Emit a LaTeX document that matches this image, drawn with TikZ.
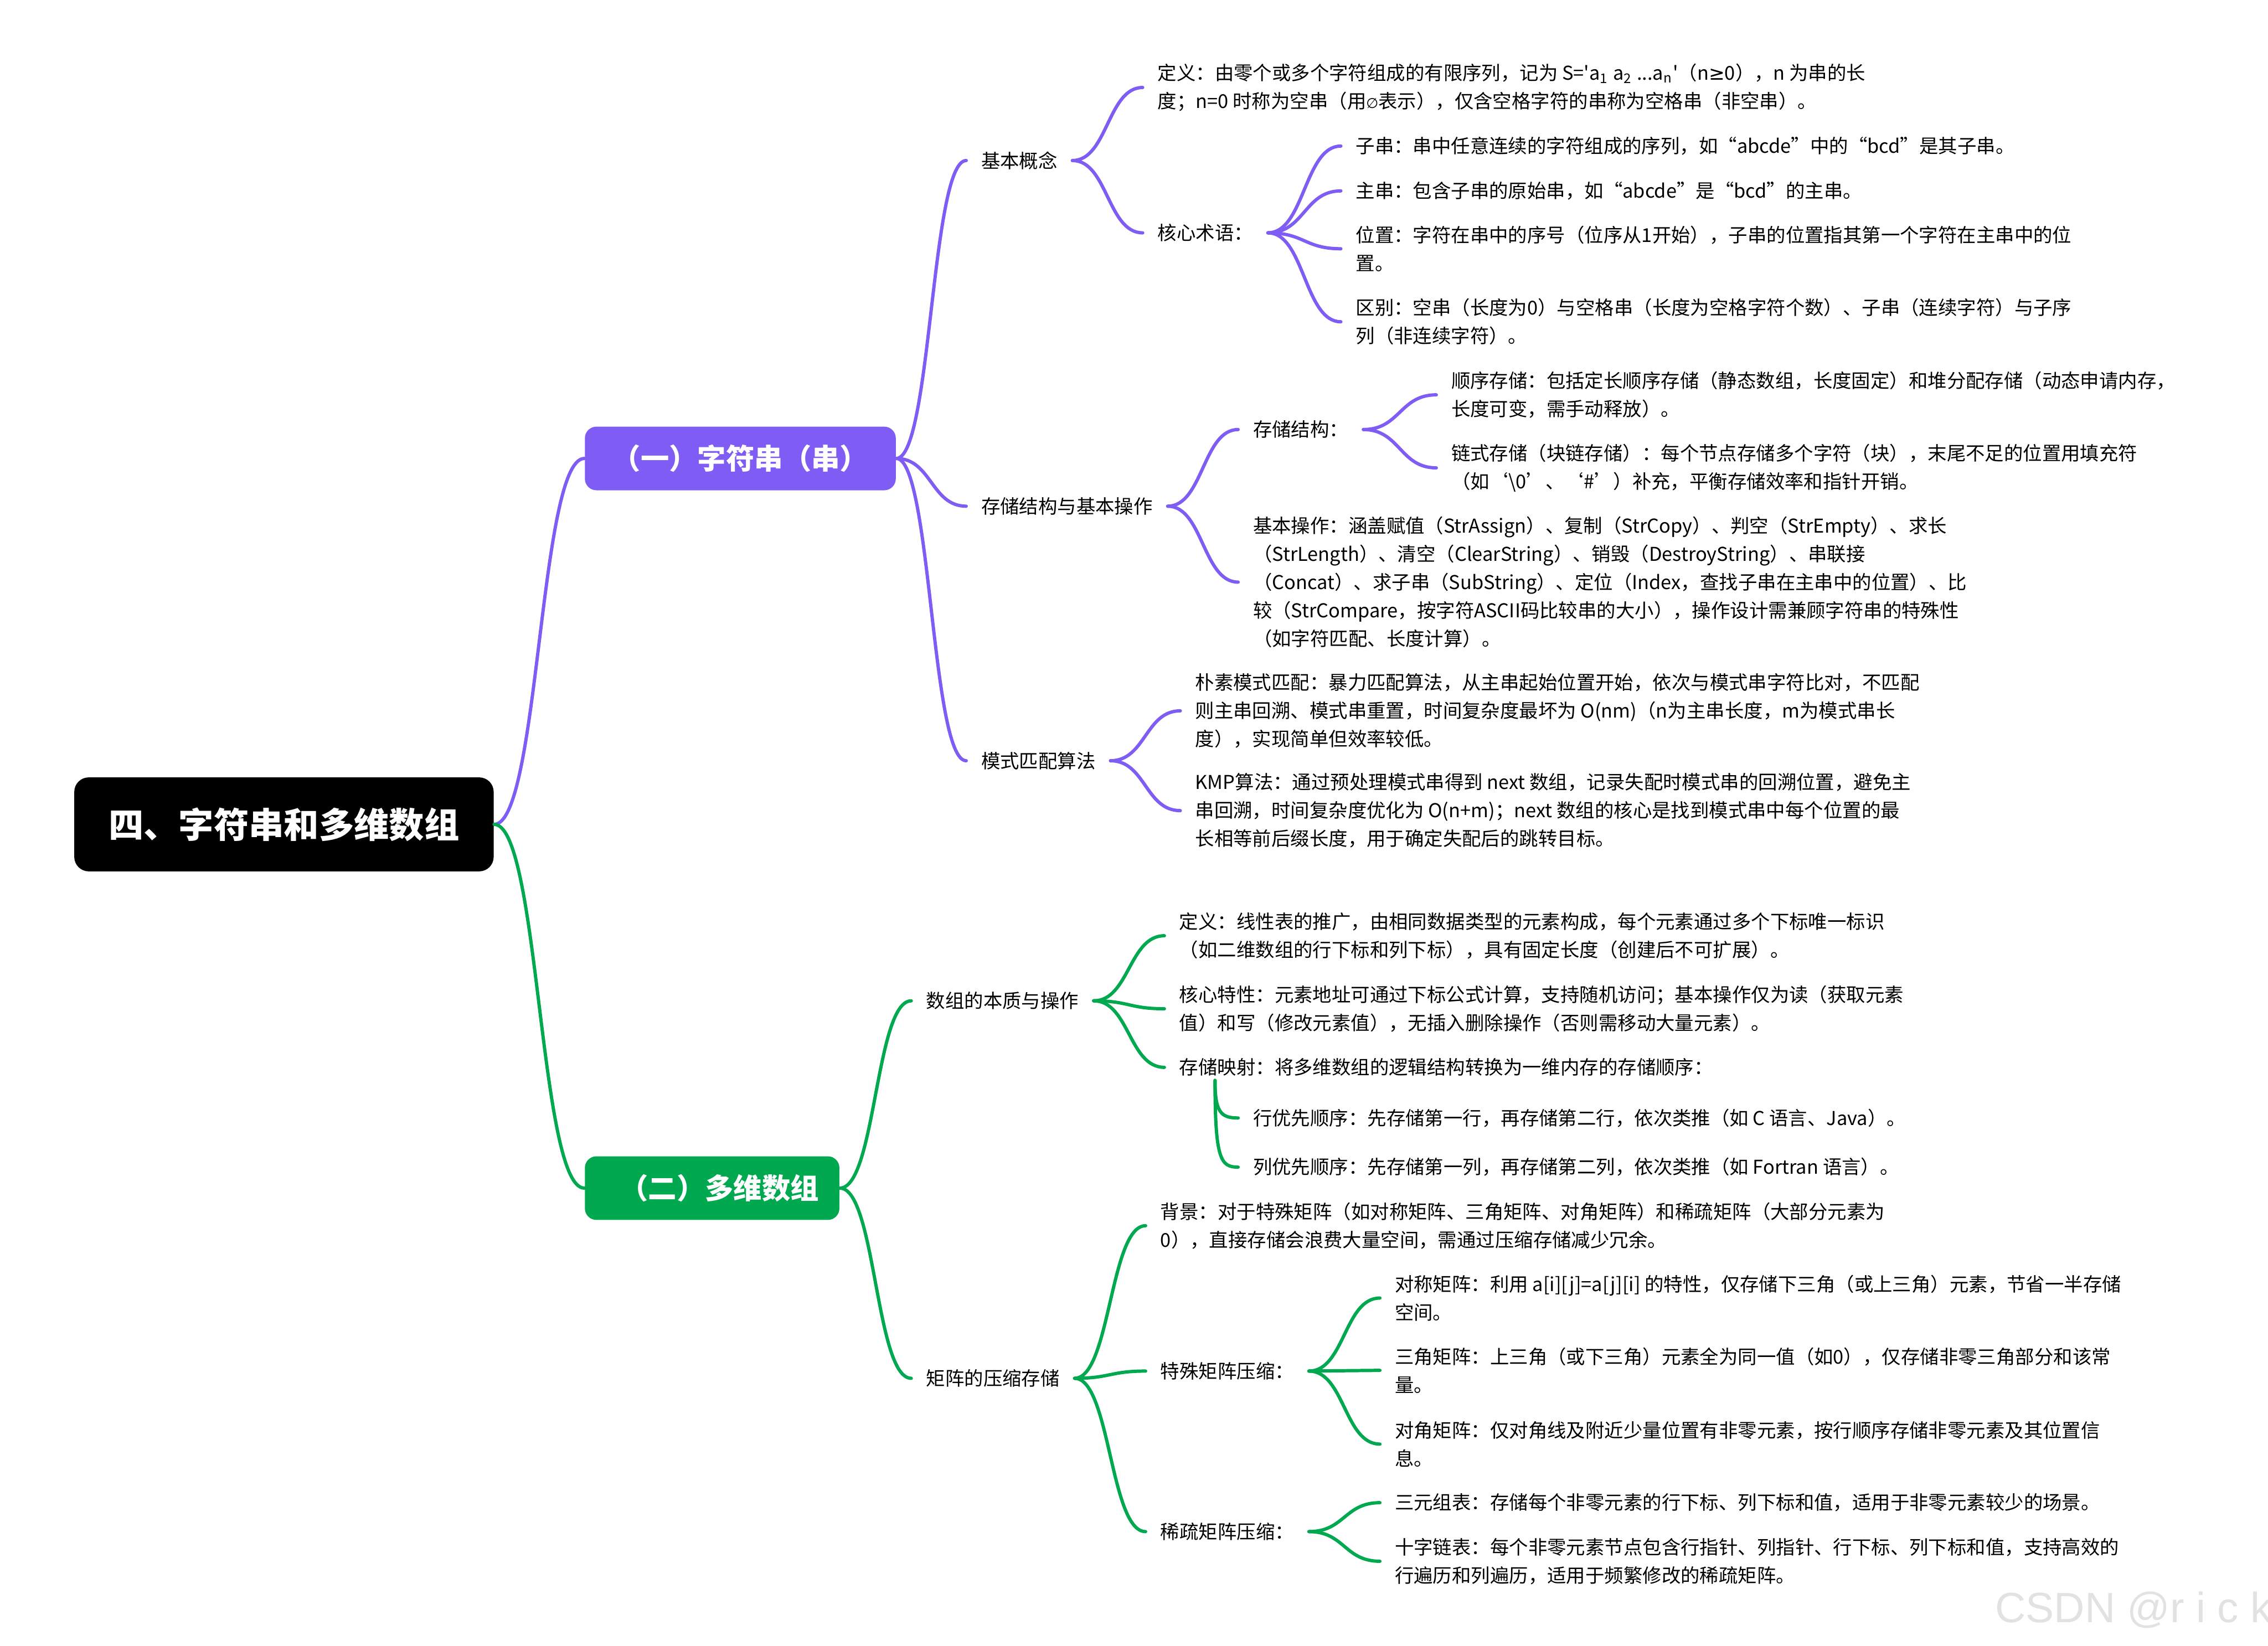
\documentclass[tikz,border=0pt]{standalone}
\usepackage{fontspec}
\setmainfont{Noto Sans CJK SC}
\newfontfamily\symfont{DejaVu Sans}
\newfontfamily\markfont{Liberation Sans}
\usetikzlibrary{calc}
\definecolor{strpurple}{HTML}{7F5CF3}
\definecolor{arrgreen}{HTML}{00A94F}
\definecolor{markgray}{HTML}{E2E2E2}
\newcommand{\leaffont}{\fontsize{7.5pt}{11.1pt}\selectfont}
\newcommand{\nullsym}{{\symfont\fontsize{5.5pt}{6pt}\selectfont ∅}}
\newcommand{\mmlink}[3]{\draw[#1] let \p1=(#2), \p2=(#3), \n1={0.5*(\x2-\x1)} in
  (\p1) .. controls +(\n1,0pt) and +(-\n1,0pt) .. (\p2);}

\begin{document}
\begin{tikzpicture}[
  x=0.02cm, y=-0.02cm,
  rootbox/.style={fill=black, rounded corners=0.2cm, text=white, minimum width=5.8cm, minimum height=1.3cm,
    inner sep=0pt, anchor=west, font=\fontsize{13.8pt}{16pt}\selectfont\bfseries},
  catbox/.style={rounded corners=0.16cm, text=white, minimum height=0.88cm, inner sep=0pt, anchor=west,
    font=\fontsize{11.2pt}{13pt}\selectfont\bfseries},
  topic/.style={anchor=west, align=left, inner xsep=0.2cm, inner ysep=1pt, font=\leaffont},
  plink/.style={strpurple, line width=1.3pt, line cap=round},
  glink/.style={arrgreen, line width=1.3pt, line cap=round}]

  \fill[white] (0,0) rectangle (1568,1138);
  \useasboundingbox (0,0) rectangle (1568,1138);

  % root and the two parts
  \node[rootbox] (root) at (51,570) {四、字符串和多维数组};
  \node[catbox, fill=strpurple, minimum width=4.3cm] (str) at (404,317) {（一）字符串（串）};
  \node[catbox, fill=arrgreen, minimum width=3.52cm] (arr) at (404,821.5) {\hspace{0.2cm}（二）多维数组};

  % part one: strings
  \node[topic] (jbgn) at (668,111) {基本概念};
  \node[topic] (strdef) at (790,60.5) {定义：由零个或多个字符组成的有限序列，记为 S=\textquotesingle a\textsubscript{1} a\textsubscript{2} ...a\textsubscript{n}\textquotesingle（n{\symfont ≥}0），n 为串的长\\度；n=0 时称为空串（用\nullsym 表示），仅含空格字符的串称为空格串（非空串）。};
  \node[topic] (hxsy) at (790,161) {核心术语：};
  \node[topic] (zc) at (927,101) {子串：串中任意连续的字符组成的序列，如“abcde”中的“bcd”是其子串。};
  \node[topic] (zhuc) at (927,132) {主串：包含子串的原始串，如“abcde”是“bcd”的主串。};
  \node[topic] (wz) at (927,172) {位置：字符在串中的序号（位序从1开始），子串的位置指其第一个字符在主串中的位\\置。};
  \node[topic] (qb) at (927,222.5) {区别：空串（长度为0）与空格串（长度为空格字符个数）、子串（连续字符）与子序\\列（非连续字符）。};

  \node[topic] (ccjg) at (668,350) {存储结构与基本操作};
  \node[topic] (ccjgl) at (856,297) {存储结构：};
  \node[topic] (sxcc) at (993,273) {顺序存储：包括定长顺序存储（静态数组，长度固定）和堆分配存储（动态申请内存，\\长度可变，需手动释放）。};
  \node[topic] (lscc) at (993,323.5) {链式存储（块链存储）：每个节点存储多个字符（块），末尾不足的位置用填充符\\（如‘\textbackslash 0’、‘\#’）补充，平衡存储效率和指针开销。};
  \node[topic] (jbcz) at (856,402.5) {基本操作：涵盖赋值（StrAssign）、复制（StrCopy）、判空（StrEmpty）、求长\\（StrLength）、清空（ClearString）、销毁（DestroyString）、串联接\\（Concat）、求子串（SubString）、定位（Index，查找子串在主串中的位置）、比\\较（StrCompare，按字符ASCII码比较串的大小），操作设计需兼顾字符串的特殊性\\（如字符匹配、长度计算）。};

  \node[topic] (mspp) at (668,526) {模式匹配算法};
  \node[topic] (pssf) at (816,491.5) {朴素模式匹配：暴力匹配算法，从主串起始位置开始，依次与模式串字符比对，不匹配\\则主串回溯、模式串重置，时间复杂度最坏为 O(nm)（n为主串长度，m为模式串长\\度），实现简单但效率较低。};
  \node[topic] (kmp) at (816,560.5) {KMP算法：通过预处理模式串得到 next 数组，记录失配时模式串的回溯位置，避免主\\串回溯，时间复杂度优化为 O(n+m)；next 数组的核心是找到模式串中每个位置的最\\长相等前后缀长度，用于确定失配后的跳转目标。};

  % part two: arrays
  \node[topic] (szbz) at (630,692) {数组的本质与操作};
  \node[topic] (arrdef) at (805,647) {定义：线性表的推广，由相同数据类型的元素构成，每个元素通过多个下标唯一标识\\（如二维数组的行下标和列下标），具有固定长度（创建后不可扩展）。};
  \node[topic] (hxtx) at (805,697.5) {核心特性：元素地址可通过下标公式计算，支持随机访问；基本操作仅为读（获取元素\\值）和写（修改元素值），无插入删除操作（否则需移动大量元素）。};
  \node[topic] (ccys) at (805,738) {存储映射：将多维数组的逻辑结构转换为一维内存的存储顺序：};
  \coordinate (ysfork) at (840,747);
  \node[topic] (hyx) at (856,773) {行优先顺序：先存储第一行，再存储第二行，依次类推（如 C 语言、Java）。};
  \node[topic] (lyx) at (856,807) {列优先顺序：先存储第一列，再存储第二列，依次类推（如 Fortran 语言）。};

  \node[topic] (jzys) at (630,953) {矩阵的压缩存储};
  \node[topic] (bj) at (792,847.5) {背景：对于特殊矩阵（如对称矩阵、三角矩阵、对角矩阵）和稀疏矩阵（大部分元素为\\0），直接存储会浪费大量空间，需通过压缩存储减少冗余。};
  \node[topic] (tsjz) at (792,948) {特殊矩阵压缩：};
  \node[topic] (dcjz) at (954,897.5) {对称矩阵：利用 a[i][j]=a[j][i] 的特性，仅存储下三角（或上三角）元素，节省一半存储\\空间。};
  \node[topic] (sjjz) at (954,947.5) {三角矩阵：上三角（或下三角）元素全为同一值（如0），仅存储非零三角部分和该常\\量。};
  \node[topic] (djjz) at (954,998.5) {对角矩阵：仅对角线及附近少量位置有非零元素，按行顺序存储非零元素及其位置信\\息。};
  \node[topic] (xsjz) at (792,1059) {稀疏矩阵压缩：};
  \node[topic] (sybb) at (954,1039) {三元组表：存储每个非零元素的行下标、列下标和值，适用于非零元素较少的场景。};
  \node[topic] (szlb) at (954,1079.5) {十字链表：每个非零元素节点包含行指针、列指针、行下标、列下标和值，支持高效的\\行遍历和列遍历，适用于频繁修改的稀疏矩阵。};

  % watermark
  \node[anchor=base west, inner sep=0pt, text=markgray, font=\markfont\fontsize{16.7pt}{18pt}\selectfont] (mark) at (1379,1122) {CSDN @r i c k};

  % connectors
  \mmlink{plink}{root.east}{str.west}
  \mmlink{glink}{root.east}{arr.west}

  \mmlink{plink}{str.east}{jbgn.west}
  \mmlink{plink}{str.east}{ccjg.west}
  \mmlink{plink}{str.east}{mspp.west}
  \mmlink{plink}{jbgn.east}{strdef.west}
  \mmlink{plink}{jbgn.east}{hxsy.west}
  \mmlink{plink}{hxsy.east}{zc.west}
  \mmlink{plink}{hxsy.east}{zhuc.west}
  \mmlink{plink}{hxsy.east}{wz.west}
  \mmlink{plink}{hxsy.east}{qb.west}
  \mmlink{plink}{ccjg.east}{ccjgl.west}
  \mmlink{plink}{ccjg.east}{jbcz.west}
  \mmlink{plink}{ccjgl.east}{sxcc.west}
  \mmlink{plink}{ccjgl.east}{lscc.west}
  \mmlink{plink}{mspp.east}{pssf.west}
  \mmlink{plink}{mspp.east}{kmp.west}

  \mmlink{glink}{arr.east}{szbz.west}
  \mmlink{glink}{arr.east}{jzys.west}
  \mmlink{glink}{szbz.east}{arrdef.west}
  \mmlink{glink}{szbz.east}{hxtx.west}
  \mmlink{glink}{szbz.east}{ccys.west}
  \draw[glink] (ysfork) .. controls +(0,22) and +(-12,0) .. (hyx.west);
  \draw[glink] (ysfork) .. controls +(0,55) and +(-12,0) .. (lyx.west);
  \mmlink{glink}{jzys.east}{bj.west}
  \mmlink{glink}{jzys.east}{tsjz.west}
  \mmlink{glink}{jzys.east}{xsjz.west}
  \mmlink{glink}{tsjz.east}{dcjz.west}
  \mmlink{glink}{tsjz.east}{sjjz.west}
  \mmlink{glink}{tsjz.east}{djjz.west}
  \mmlink{glink}{xsjz.east}{sybb.west}
  \mmlink{glink}{xsjz.east}{szlb.west}
\end{tikzpicture}
\end{document}
